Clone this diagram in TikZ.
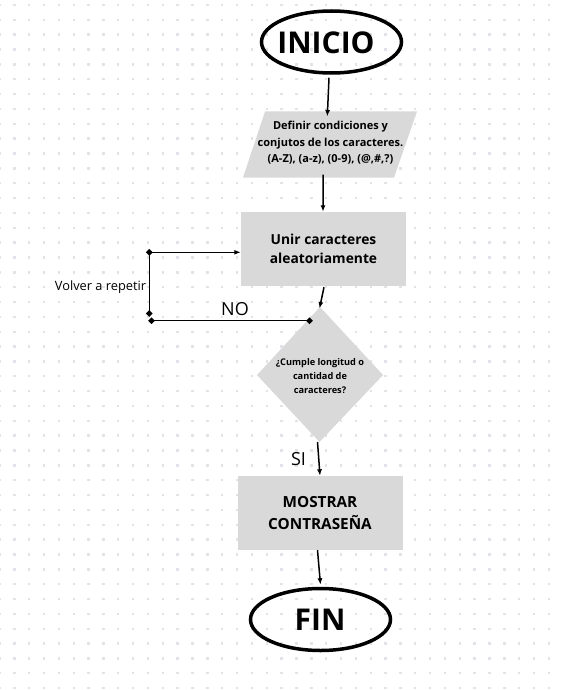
\documentclass[tikz,border=0pt]{standalone}
\usepackage{fontspec}
\setmainfont{Open Sans}
\usetikzlibrary{arrows.meta,calc,shapes.geometric}
\definecolor{boxgray}{HTML}{D9D9D9}
\definecolor{dotgray}{HTML}{E2E2E8}
\begin{document}
\begin{tikzpicture}[x=1pt,y=-1pt,
  term/.style={ellipse, draw=black, line width=3.5pt, minimum width=140pt, minimum height=62pt, inner sep=0pt},
  termtext/.style={font=\bfseries\fontsize{30}{36}\selectfont, inner sep=0pt},
  procbox/.style={rectangle, fill=boxgray, minimum width=165pt, minimum height=74pt, inner sep=0pt, align=center},
  conn/.style={line width=1.5pt, -{Latex[length=6.5pt,width=5pt]}},
  loopline/.style={line width=1.5pt},
  mk/.style={diamond, fill=black, inner sep=0pt, minimum width=7pt, minimum height=7pt},
  lbl/.style={font=\fontsize{18}{22}\selectfont, inner sep=0pt}
]
\useasboundingbox (0,0) rectangle (562,690);
\fill[white] (0,0) rectangle (562,690);
% dotted grid
\foreach \i in {-1,...,37} {
  \foreach \j in {0,...,46} {
    \fill[dotgray] ({14.3+14.85*\i-1.2},{5+14.85*\j-1.2}) rectangle ++(2.4,2.4);
  }
}

% INICIO
\node[term] (ini) at (331.5,42) {};
\node[termtext] (iniT) at (326,43) {INICIO};

% Parallelogram
\coordinate (pTL) at (265,111.5);
\coordinate (pTR) at (417,111.5);
\coordinate (pBR) at (394,177.5);
\coordinate (pBL) at (243,177.5);
\fill[boxgray] (pTL) -- (pTR) -- (pBR) -- (pBL) -- cycle;
\node[align=center, font=\bfseries\fontsize{11}{16.5}\selectfont, inner sep=0pt] (def) at (330.5,143)
  {Definir condiciones y\\conjutos de los caracteres.\\(A-Z), (a-z), (0-9), (@,\#,?)};

% Unir
\node[procbox, font=\bfseries\fontsize{13.8}{18.5}\selectfont] (unir) at (323.5,249) {Unir caracteres\\aleatoriamente};

% Diamond
\coordinate (dT) at (320,307);
\coordinate (dR) at (383,375);
\coordinate (dB) at (319.5,442);
\coordinate (dL) at (257,375);
\fill[boxgray] (dT) -- (dR) -- (dB) -- (dL) -- cycle;
\node[align=center, font=\bfseries\fontsize{9.2}{14}\selectfont, inner sep=0pt] (cond) at (320,376.5)
  {¿Cumple longitud o\\cantidad de\\caracteres?};

% Mostrar
\node[procbox, font=\bfseries\fontsize{15.3}{22}\selectfont] (most) at (320,513) {MOSTRAR\\CONTRASEÑA};

% FIN
\node[term] (fin) at (320.5,619.5) {};
\node[termtext] (finT) at (320,620) {FIN};

% main connectors
\draw[conn] ([xshift=-2.5pt,yshift=-3pt]ini.south) -- ($(pTL)!0.41!(pTR)+(0,5)$);
\draw[conn] ($(pBL)!0.53!(pBR)+(0,-3)$) -- ([xshift=-0.5pt]unir.north);
\draw[conn] ([xshift=0.5pt,yshift=-1pt]unir.south) -- ($(dT)+(-0.5,1.5)$);
\draw[conn] ($(dB)+(-2,0)$) -- ([xshift=0pt]most.north);
\draw[conn] ([xshift=-2.5pt]most.south) -- ([yshift=2pt]fin.north);

% loop back
\node[mk] (m1) at (309.5,320.7) {};
\node[mk] (m2) at (151.5,320.7) {};
\node[mk] (m3) at (149.3,313.5) {};
\node[mk] (m4) at (149.3,252.3) {};
\draw[loopline] (m1.center) -- (m2.center);
\draw[loopline] (m3.center) -- (m4.center);
\draw[conn] (m4.center) -- (m4 -| unir.west);

% labels
\node[lbl] (no) at (235,309) {NO};
\node[lbl] (si) at (298.5,459) {SI};
\node[font=\fontsize{12.8}{15}\selectfont, inner sep=0pt] (rep) at (100.5,287) {Volver a repetir};
\end{tikzpicture}
\end{document}
